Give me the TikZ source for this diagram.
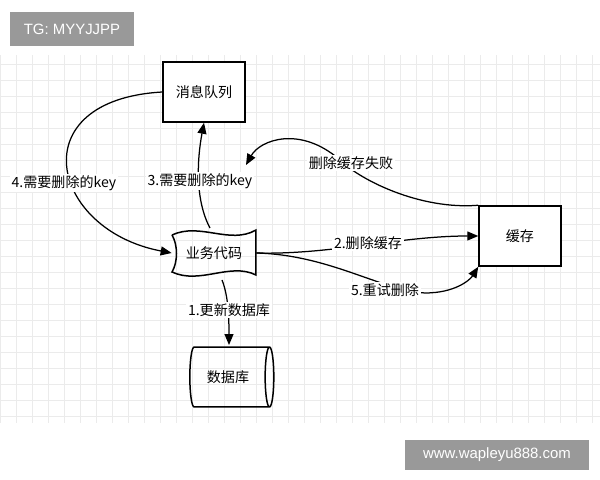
\documentclass[tikz,border=0pt]{standalone}
\usepackage{fontspec}
\setmainfont{Noto Sans CJK SC}
\newfontfamily\tagfont{Liberation Sans}
\usetikzlibrary{shapes.geometric,arrows.meta}
\tikzset{
	box/.style = {draw, line width = 0.3mm, minimum width = 1.64cm, minimum height = 1.2cm, font = \fontsize{8}{9}\selectfont},
	lbl/.style = {fill = white, inner sep = 1pt, font = \fontsize{8}{9}\selectfont},
	flow/.style = {line width = 0.25mm, -{Triangle[length=2.2mm,width=1.8mm]}},
	tag/.style = {fill = black!40, text = white, inner sep = 0pt, font = \fontsize{8.5}{9}\selectfont\tagfont}
}
\begin{document}
\begin{tikzpicture}[x = 0.02cm, y = -0.02cm]
	
	\useasboundingbox (0,0) rectangle (600,480);
	\fill[white] (0,0) rectangle (600,480);
	\draw[black!8, line width = 0.1mm] (0,55) grid[step = 0.32cm] (600,423);
	
	\node[tag, minimum width = 2.5cm, minimum height = 0.68cm] (tg) at (72,29) {TG: MYYJJPP};
	\node[tag, minimum width = 3.7cm, minimum height = 0.6cm] (site) at (497,455) {www.wapleyu888.com};
	
	\node[box, fill = white] (mq) at (204,92) {消息队列};
	\node[box, fill = white] (cache) at (520,236) {缓存};
	\node[font = \fontsize{8}{9}\selectfont, minimum width = 1.68cm, minimum height = 0.9cm] (biz) at (214,253) {业务代码};
	\draw[line width = 0.3mm] (172,235) .. controls (200,222) and (230,245) .. (256,230)
		-- (256,275) .. controls (230,262) and (200,285) .. (172,272) .. controls (178,262) and (178,245) .. (172,235);
	\node[cylinder, draw, line width = 0.3mm, aspect = 0.35,
		minimum width = 1.2cm, minimum height = 1.68cm, font = \fontsize{8}{9}\selectfont] (db) at (228,377) {数据库};
	
	\coordinate (failin) at (246,165);
	\coordinate (dbtop) at (229,345);
	
	\draw[flow] (222,280) .. controls (228,295) and (229,315) .. (dbtop);
	\node[lbl] (l1) at (229,310) {1.更新数据库};
	
	\draw[flow] (biz.east) .. controls (330,255) and (400,236) .. (cache.west);
	\node[lbl] (l2) at (368,243) {2.删除缓存};
	
	\draw[flow] (210,228) .. controls (195,200) and (197,160) .. (mq.south);
	\node[lbl] (l3) at (200,181) {3.需要删除的key};
	
	\draw[flow] (mq.west) .. controls (20,100) and (50,230) .. (biz.west);
	\node[lbl] (l4) at (64,183) {4.需要删除的key};
	
	\draw[flow] (cache.north west) .. controls (420,210) and (360,180) .. (340,160)
		.. controls (300,125) and (260,140) .. (failin);
	\node[lbl] (lf) at (351,163) {删除缓存失败};
	
	\draw[flow] (biz.east) .. controls (330,255) and (380,290) .. (425,293)
		.. controls (455,293) and (470,280) .. (cache.south west);
	\node[lbl] (l5) at (385,290) {5.重试删除};
	
\end{tikzpicture}
\end{document}
